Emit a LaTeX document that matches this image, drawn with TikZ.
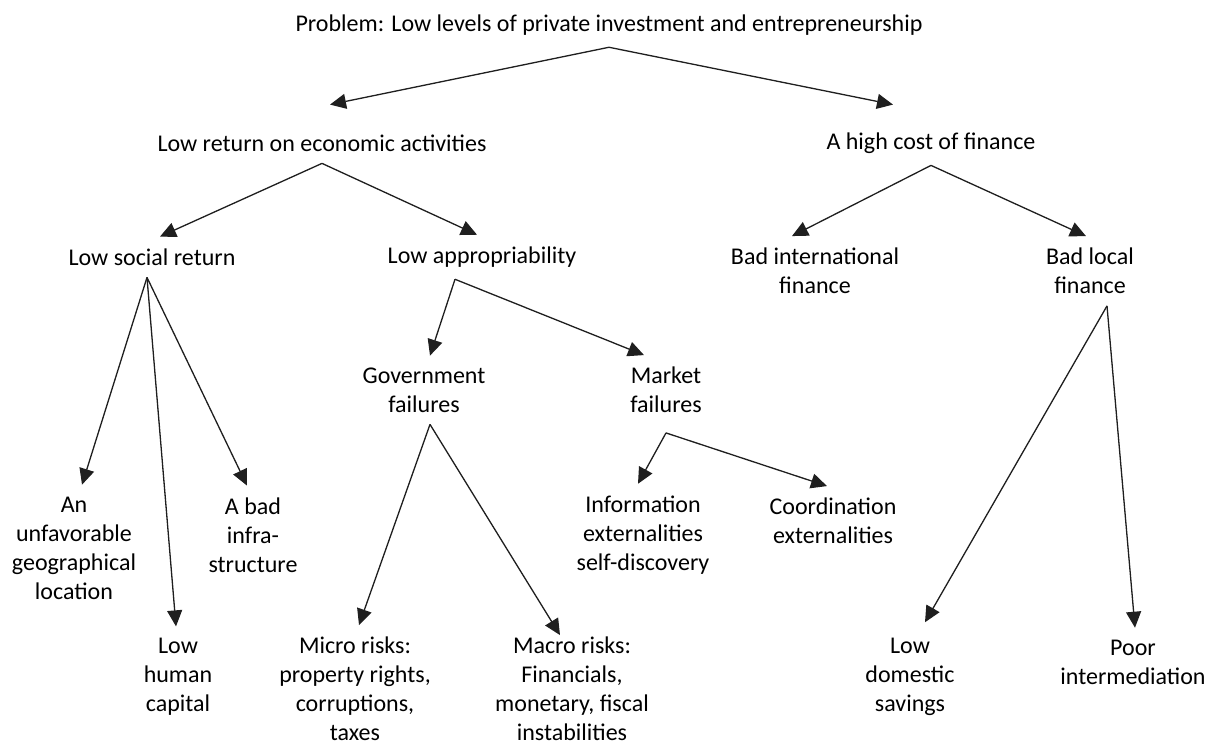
\documentclass[tikz,border=0pt]{standalone}
\usepackage{fontspec}
\setmainfont{Carlito}
\usetikzlibrary{arrows.meta}

\begin{document}
\begin{tikzpicture}[x=0.5pt, y=-0.5pt, >={Triangle[length=8pt,width=7.5pt]}]
    \tikzstyle{item}=[align=center, inner sep=0pt, outer ysep=6pt,
      font=\fontsize{12}{14.5}\selectfont]
    \tikzstyle{link}=[->, line width=0.65pt, draw=black!88, fill=black!88]
    \useasboundingbox (0,0) rectangle (1207,745);
    % levels 0 and 1
    \draw (609,25)   node[item] (prob)  {Problem: Low levels of private investment and entrepreneurship};
    \draw (322,143)  node[item] (ret)   {Low return on economic activities};
    \draw (931,143)  node[item] (fin)   {A high cost of finance};
    % level 2
    \draw (152,257)  node[item] (soc)   {Low social return};
    \draw (482,257)  node[item] (app)   {Low appropriability};
    \draw (815,271)  node[item] (intl)  {Bad international\\finance};
    \draw (1090,271) node[item] (local) {Bad local\\finance};
    % level 3
    \draw (424,390)  node[item] (gov)   {Government\\failures};
    \draw (666,390)  node[item] (mkt)   {Market\\failures};
    % leaves
    \draw (74,548)   node[item] (geo)   {An\\unfavorable\\geographical\\location};
    \draw (178,677)  node[item] (hum)   {Low\\human\\capital};
    \draw (253,535)  node[item] (infra) {A bad\\infra-\\structure};
    \draw (355,689)  node[item] (micro) {Micro risks:\\property rights,\\corruptions,\\taxes};
    \draw (572,689)  node[item] (macro) {Macro risks:\\Financials,\\monetary, fiscal\\instabilities};
    \draw (643,535)  node[item] (info)  {Information\\externalities\\self-discovery};
    \draw (833,521)  node[item] (coord) {Coordination\\externalities};
    \draw (910,677)  node[item] (sav)   {Low\\domestic\\savings};
    \draw (1133,662) node[item] (poor)  {Poor\\intermediation};

    \draw[link] (prob.south) -- ([xshift=4pt,yshift=9pt]ret.north);
    \draw[link] (prob.south) -- ([xshift=-19pt,yshift=8pt]fin.north);
    \draw[link] (ret.south) -- ([xshift=4pt]soc.north);
    \draw[link] (ret.south) -- ([xshift=-2.5pt]app.north);
    \draw[link] (fin.south) -- ([xshift=-11.5pt]intl.north);
    \draw[link] (fin.south) -- ([xshift=-2pt]local.north);
    \draw[link] ([xshift=-2.5pt]soc.south) -- ([xshift=4pt]geo.north);
    \draw[link] ([xshift=-2.5pt]soc.south) -- ([xshift=-1pt]hum.north);
    \draw[link] ([xshift=-2.5pt]soc.south) -- ([xshift=-3pt]infra.north);
    \draw[link] ([xshift=-13.5pt]app.south) -- ([xshift=3pt]gov.north);
    \draw[link] ([xshift=-13.5pt]app.south) -- ([xshift=-11pt]mkt.north);
    \draw[link] ([xshift=3pt]gov.south) -- ([xshift=2pt]micro.north);
    \draw[link] ([xshift=3pt]gov.south) -- ([xshift=-6pt,yshift=-5pt]macro.north);
    \draw[link] ([yshift=-4pt]mkt.south) -- ([xshift=-2.5pt]info.north);
    \draw[link] ([yshift=-4pt]mkt.south) -- ([xshift=-3pt]coord.north);
    \draw[link] ([xshift=8.5pt]local.south) -- ([xshift=7.5pt,yshift=2pt]sav.north);
    \draw[link] ([xshift=8.5pt]local.south) -- ([xshift=1pt]poor.north);
\end{tikzpicture}
\end{document}
